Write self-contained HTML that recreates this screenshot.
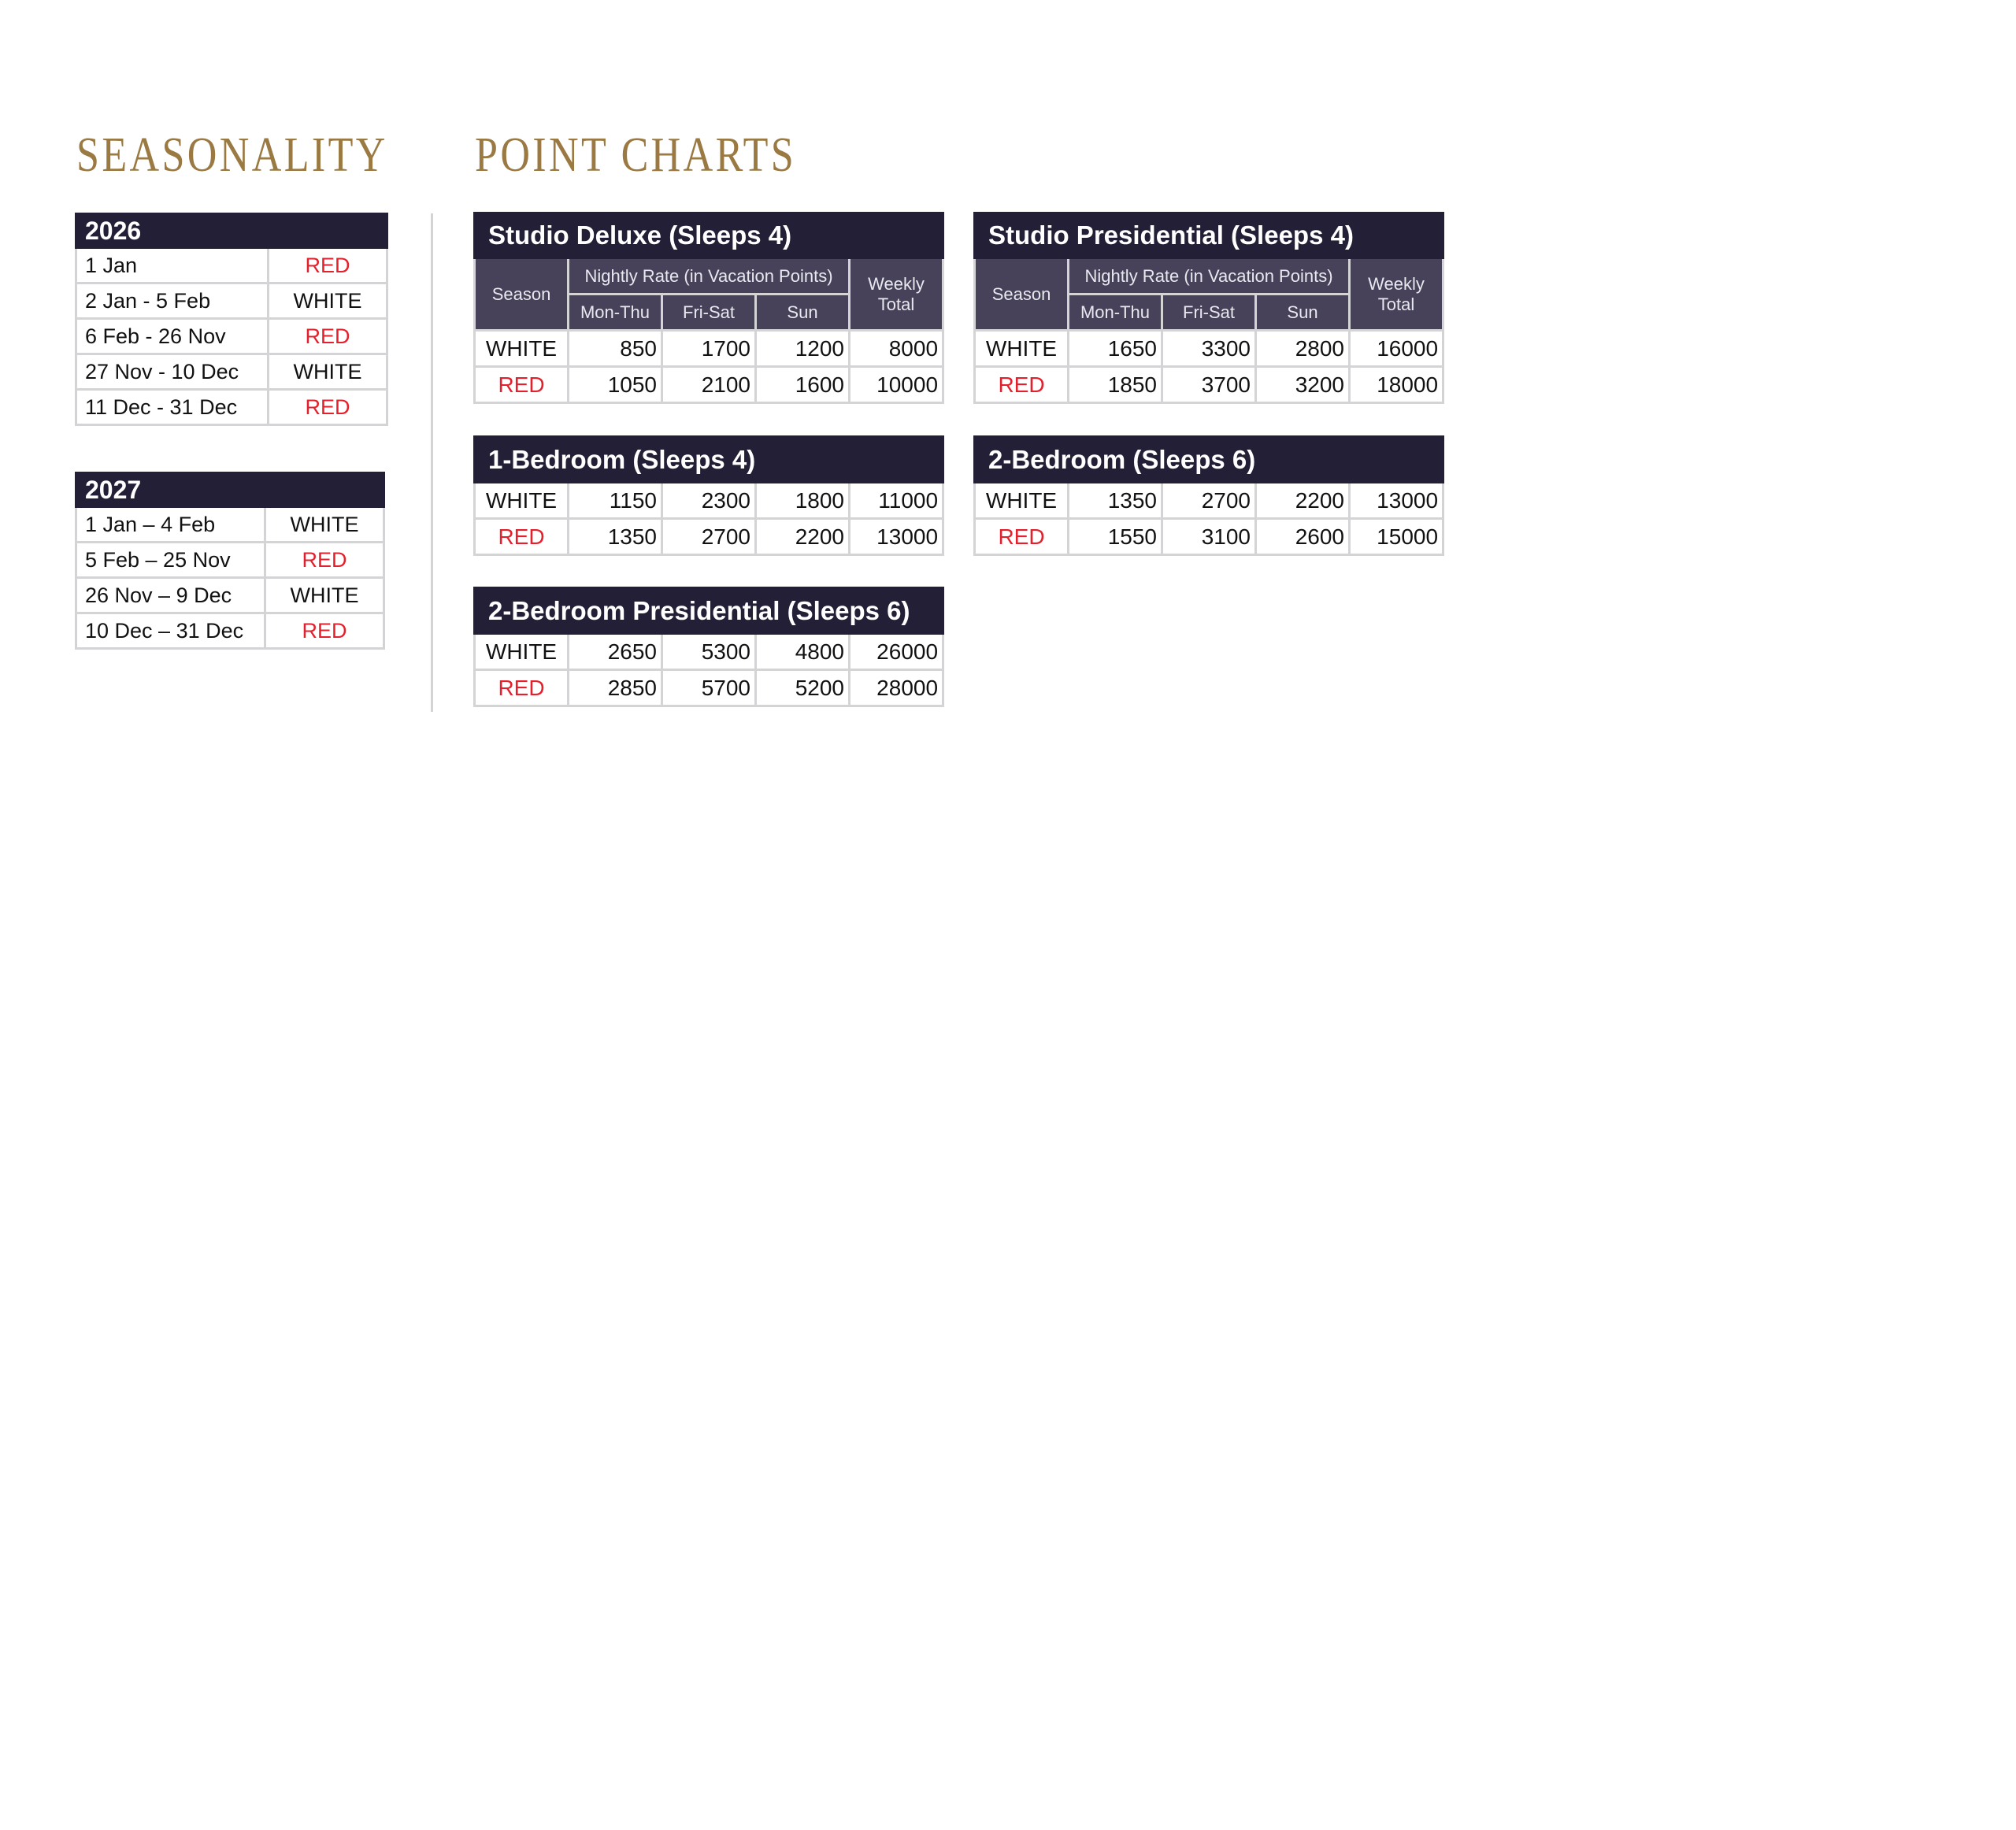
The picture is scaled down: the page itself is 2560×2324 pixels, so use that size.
<!DOCTYPE html>
<html><head><meta charset="utf-8"><style>
body{margin:0;width:2560px;height:2324px;background:#fff;position:relative;overflow:hidden;font-family:"Liberation Sans",sans-serif}
.t{position:absolute;top:162px;font-family:"Liberation Serif",serif;color:#9a7a42;font-size:62px;letter-spacing:4px;transform-origin:0 0;transform:scaleX(0.84);white-space:nowrap}
table{position:absolute;border-collapse:collapse;table-layout:fixed}
td{border:3px solid #d4d4d6;padding:0;white-space:nowrap;color:#111;font-size:28px}
.h{background:#231f36;color:#fff;font-weight:bold;font-size:33px;text-align:left;padding-left:16px;border-color:#231f36}
.s{background:#47425a;color:#e8e8ee;font-size:22px;text-align:center;border-color:#d4d4d6}
.r{color:#e3202c}
.pc td{text-align:right;padding-right:5px}
.pc td.c{text-align:center;padding-right:0}
.pc td.h{text-align:left}
.se td{padding-left:10px;font-size:27px}
.se td.v{text-align:center;padding-left:0}
.se td.h{font-size:32px;padding-left:10px}
</style></head><body>
<div class="t" style="left:97px">SEASONALITY</div>
<div class="t" style="left:603px">POINT CHARTS</div>
<div style="position:absolute;left:547px;top:271px;width:3px;height:633px;background:#d4d4d6"></div>

<table class="se" style="left:95px;top:270px;width:395px">
<colgroup><col style="width:244px"><col style="width:151px"></colgroup>
<tr style="height:43px"><td class="h" colspan="2">2026</td></tr>
<tr style="height:45px"><td>1 Jan</td><td class="v r">RED</td></tr>
<tr style="height:45px"><td>2 Jan - 5 Feb</td><td class="v">WHITE</td></tr>
<tr style="height:45px"><td>6 Feb - 26 Nov</td><td class="v r">RED</td></tr>
<tr style="height:45px"><td>27 Nov - 10 Dec</td><td class="v">WHITE</td></tr>
<tr style="height:45px"><td>11 Dec - 31 Dec</td><td class="v r">RED</td></tr>
</table>

<table class="se" style="left:95px;top:599px;width:391px">
<colgroup><col style="width:240px"><col style="width:151px"></colgroup>
<tr style="height:43px"><td class="h" colspan="2">2027</td></tr>
<tr style="height:45px"><td>1 Jan – 4 Feb</td><td class="v">WHITE</td></tr>
<tr style="height:45px"><td>5 Feb – 25 Nov</td><td class="v r">RED</td></tr>
<tr style="height:45px"><td>26 Nov – 9 Dec</td><td class="v">WHITE</td></tr>
<tr style="height:45px"><td>10 Dec – 31 Dec</td><td class="v r">RED</td></tr>
</table>

<table class="pc" style="left:601px;top:269px;width:595px">
<colgroup><col style="width:119px"><col style="width:119px"><col style="width:119px"><col style="width:119px"><col style="width:119px"></colgroup>
<tr style="height:57px"><td class="h" colspan="5">Studio Deluxe (Sleeps 4)</td></tr>
<tr style="height:46px"><td class="s c" rowspan="2">Season</td><td class="s c" colspan="3">Nightly Rate (in Vacation Points)</td><td class="s c" rowspan="2" style="line-height:26px">Weekly<br>Total</td></tr>
<tr style="height:46px"><td class="s c">Mon-Thu</td><td class="s c">Fri-Sat</td><td class="s c">Sun</td></tr>
<tr style="height:46px"><td class="c">WHITE</td><td>850</td><td>1700</td><td>1200</td><td>8000</td></tr>
<tr style="height:46px"><td class="c r">RED</td><td>1050</td><td>2100</td><td>1600</td><td>10000</td></tr>
</table>

<table class="pc" style="left:1236px;top:269px;width:595px">
<colgroup><col style="width:119px"><col style="width:119px"><col style="width:119px"><col style="width:119px"><col style="width:119px"></colgroup>
<tr style="height:57px"><td class="h" colspan="5">Studio Presidential (Sleeps 4)</td></tr>
<tr style="height:46px"><td class="s c" rowspan="2">Season</td><td class="s c" colspan="3">Nightly Rate (in Vacation Points)</td><td class="s c" rowspan="2" style="line-height:26px">Weekly<br>Total</td></tr>
<tr style="height:46px"><td class="s c">Mon-Thu</td><td class="s c">Fri-Sat</td><td class="s c">Sun</td></tr>
<tr style="height:46px"><td class="c">WHITE</td><td>1650</td><td>3300</td><td>2800</td><td>16000</td></tr>
<tr style="height:46px"><td class="c r">RED</td><td>1850</td><td>3700</td><td>3200</td><td>18000</td></tr>
</table>

<table class="pc" style="left:601px;top:553px;width:595px">
<colgroup><col style="width:119px"><col style="width:119px"><col style="width:119px"><col style="width:119px"><col style="width:119px"></colgroup>
<tr style="height:58px"><td class="h" colspan="5">1-Bedroom (Sleeps 4)</td></tr>
<tr style="height:46px"><td class="c">WHITE</td><td>1150</td><td>2300</td><td>1800</td><td>11000</td></tr>
<tr style="height:46px"><td class="c r">RED</td><td>1350</td><td>2700</td><td>2200</td><td>13000</td></tr>
</table>

<table class="pc" style="left:1236px;top:553px;width:595px">
<colgroup><col style="width:119px"><col style="width:119px"><col style="width:119px"><col style="width:119px"><col style="width:119px"></colgroup>
<tr style="height:58px"><td class="h" colspan="5">2-Bedroom (Sleeps 6)</td></tr>
<tr style="height:46px"><td class="c">WHITE</td><td>1350</td><td>2700</td><td>2200</td><td>13000</td></tr>
<tr style="height:46px"><td class="c r">RED</td><td>1550</td><td>3100</td><td>2600</td><td>15000</td></tr>
</table>

<table class="pc" style="left:601px;top:745px;width:595px">
<colgroup><col style="width:119px"><col style="width:119px"><col style="width:119px"><col style="width:119px"><col style="width:119px"></colgroup>
<tr style="height:58px"><td class="h" colspan="5">2-Bedroom Presidential (Sleeps 6)</td></tr>
<tr style="height:46px"><td class="c">WHITE</td><td>2650</td><td>5300</td><td>4800</td><td>26000</td></tr>
<tr style="height:46px"><td class="c r">RED</td><td>2850</td><td>5700</td><td>5200</td><td>28000</td></tr>
</table>
</body></html>
